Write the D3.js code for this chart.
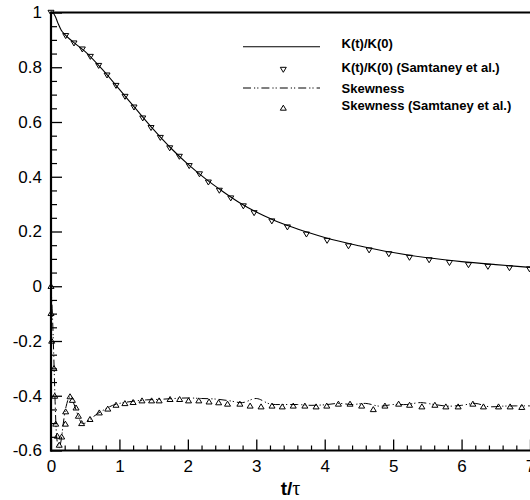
<!DOCTYPE html>
<html>
<head>
<meta charset="utf-8">
<script src="https://cdn.jsdelivr.net/npm/d3@7"></script>
<style>
  html, body { margin: 0; padding: 0; background: #fff; }
  svg { display: block; font-family: "Liberation Sans", Arial, sans-serif; }
</style>
</head>
<body>
<svg id="chart" width="530" height="500"></svg>
<script>
// ---------- data ----------
const xTickValues = [0, 1, 2, 3, 4, 5, 6, 7];
const xTickLabels = ["0", "1", "2", "3", "4", "5", "6", "7"];
const yTickValues = [1, 0.8, 0.6, 0.4, 0.2, 0, -0.2, -0.4, -0.6];
const yTickLabels = ["1", "0.8", "0.6", "0.4", "0.2", "0", "-0.2", "-0.4", "-0.6"];

// K(t)/K(0) simulation line
const kLineT = [0, 0.03, 0.06, 0.1, 0.15, 0.2, 0.3, 0.5, 0.75, 1.0, 1.25, 1.5, 1.75, 2.0, 2.25, 2.5, 2.75, 3.0, 3.25, 3.5, 3.75, 4.0, 4.5, 5.0, 5.5, 6.0, 6.5, 7.0];
const kLineV = [1.0, 0.998, 0.987, 0.962, 0.935, 0.92, 0.897, 0.857, 0.792, 0.719, 0.645, 0.572, 0.505, 0.446, 0.394, 0.348, 0.306, 0.271, 0.242, 0.218, 0.197, 0.178, 0.148, 0.123, 0.104, 0.09, 0.079, 0.069];

// K(t)/K(0) Samtaney et al. markers
const kRefT = [0, 0.215, 0.336, 0.458, 0.575, 0.697, 0.819, 0.95, 1.082, 1.213, 1.341, 1.462, 1.598, 1.735, 1.876, 2.02, 2.17, 2.30, 2.46, 2.627, 2.811, 2.968, 3.227, 3.455, 3.733, 4.035, 4.347, 4.649, 4.937, 5.239, 5.526, 5.823, 6.101, 6.385, 6.70, 6.993];
const kRefV = [1.0, 0.915, 0.888, 0.866, 0.839, 0.806, 0.771, 0.733, 0.693, 0.654, 0.614, 0.579, 0.543, 0.505, 0.474, 0.44, 0.41, 0.38, 0.35, 0.322, 0.293, 0.268, 0.238, 0.216, 0.19, 0.167, 0.147, 0.132, 0.118, 0.105, 0.096, 0.086, 0.078, 0.072, 0.067, 0.063];

// Skewness simulation line
const sLineT = [0, 0.02, 0.04, 0.06, 0.08, 0.1, 0.12, 0.15, 0.18, 0.22, 0.27, 0.3, 0.35, 0.4, 0.45, 0.5, 0.6, 0.7, 0.8, 0.9, 1.0, 1.2, 1.4, 1.6, 1.8, 2.0, 2.2, 2.4, 2.6, 2.8, 3.0, 3.2, 3.4, 3.6, 3.8, 4.0, 4.2, 4.4, 4.6, 4.8, 5.0, 5.2, 5.4, 5.6, 5.8, 6.0, 6.2, 6.4, 6.6, 6.8, 7.0];
const sLineV = [0, -0.1, -0.25, -0.42, -0.54, -0.58, -0.59, -0.56, -0.5, -0.44, -0.405, -0.41, -0.44, -0.475, -0.5, -0.5, -0.48, -0.462, -0.448, -0.435, -0.428, -0.42, -0.415, -0.413, -0.41, -0.408, -0.41, -0.412, -0.418, -0.425, -0.41, -0.43, -0.432, -0.432, -0.435, -0.433, -0.428, -0.432, -0.428, -0.438, -0.432, -0.432, -0.425, -0.432, -0.438, -0.435, -0.428, -0.44, -0.438, -0.437, -0.437];

// Skewness Samtaney et al. markers
const sRefT = [0, 0.0, 0.01, 0.044, 0.054, 0.069, 0.092, 0.12, 0.156, 0.21, 0.214, 0.278, 0.312, 0.366, 0.40, 0.448, 0.57, 0.706, 0.83, 0.95, 1.08, 1.20, 1.33, 1.47, 1.58, 1.74, 1.88, 2.01, 2.16, 2.31, 2.45, 2.58, 2.76, 2.91, 3.07, 3.23, 3.38, 3.54, 3.71, 3.874, 4.03, 4.20, 4.37, 4.54, 4.71, 4.88, 5.08, 5.24, 5.42, 5.61, 5.77, 5.95, 6.165, 6.32, 6.54, 6.71, 6.88];
const sRefV = [0, -0.099, -0.2, -0.30, -0.401, -0.503, -0.547, -0.58, -0.55, -0.503, -0.458, -0.403, -0.416, -0.444, -0.474, -0.501, -0.486, -0.462, -0.448, -0.434, -0.428, -0.424, -0.418, -0.418, -0.418, -0.413, -0.413, -0.418, -0.418, -0.422, -0.425, -0.43, -0.43, -0.437, -0.44, -0.437, -0.44, -0.437, -0.437, -0.44, -0.437, -0.43, -0.43, -0.437, -0.45, -0.437, -0.43, -0.434, -0.44, -0.434, -0.44, -0.44, -0.43, -0.44, -0.44, -0.44, -0.442];

const legendLabels = ["K(t)/K(0)", "K(t)/K(0) (Samtaney et al.)", "Skewness", "Skewness (Samtaney et al.)"];
const xAxisTitleMain = "t/";
const xAxisTitleGreek = "\u03C4";

// ---------- drawing ----------
(function () {
const svg = d3.select("#chart");
const pL = 51, pR = 530, pT = 12.5, pB = 450.5;
const x = d3.scaleLinear().domain([0, 7]).range([pL, pR]);
const y = d3.scaleLinear().domain([-0.6, 1]).range([pB, pT]);

svg.append("defs").append("clipPath").attr("id", "clip")
  .append("rect").attr("x", pL - 4).attr("y", pT - 6).attr("width", pR - pL + 8).attr("height", pB - pT + 8);

// minor ticks
const xMinor = d3.range(0, 7.001, 0.2).filter(v => Math.abs(v - Math.round(v)) > 1e-6);
const yMinor = d3.range(-0.6, 1.0001, 0.05).filter(v => Math.abs(v * 5 - Math.round(v * 5)) > 1e-6);

svg.append("g").attr("transform", `translate(0,${pB})`)
  .call(d3.axisBottom(x).tickValues(xMinor).tickSize(-5).tickFormat(""))
  .call(g => g.select(".domain").remove())
  .call(g => g.selectAll("line").attr("stroke", "#000").attr("stroke-width", 1.2));

svg.append("g").attr("transform", `translate(${pL},0)`)
  .call(d3.axisLeft(y).tickValues(yMinor).tickSize(-6).tickFormat(""))
  .call(g => g.select(".domain").remove())
  .call(g => g.selectAll("line").attr("stroke", "#000").attr("stroke-width", 1.2));

// major ticks
svg.append("g").attr("transform", `translate(0,${pB})`)
  .call(d3.axisBottom(x).tickValues(xTickValues).tickSize(-11).tickPadding(9)
    .tickFormat((d, i) => xTickLabels[i]))
  .call(g => g.select(".domain").remove())
  .call(g => g.selectAll("line").attr("stroke", "#000").attr("stroke-width", 1.3))
  .call(g => g.selectAll("text").attr("font-size", 17).attr("fill", "#000")
    .attr("font-family", "Liberation Sans, Arial, sans-serif"));

svg.append("g").attr("transform", `translate(${pL},0)`)
  .call(d3.axisLeft(y).tickValues(yTickValues).tickSize(-11).tickPadding(9)
    .tickFormat((d, i) => yTickLabels[i]))
  .call(g => g.select(".domain").remove())
  .call(g => g.selectAll("line").attr("stroke", "#000").attr("stroke-width", 1.3))
  .call(g => g.selectAll("text").attr("font-size", 17).attr("fill", "#000")
    .attr("font-family", "Liberation Sans, Arial, sans-serif"));

// frame
svg.append("line").attr("x1", pL).attr("x2", pR + 2).attr("y1", pT).attr("y2", pT)
  .attr("stroke", "#000").attr("stroke-width", 2);
svg.append("line").attr("x1", pL).attr("x2", pL).attr("y1", pT - 1).attr("y2", pB + 1)
  .attr("stroke", "#000").attr("stroke-width", 2.2);
svg.append("line").attr("x1", pL - 1).attr("x2", pR + 2).attr("y1", pB).attr("y2", pB)
  .attr("stroke", "#000").attr("stroke-width", 2.2);

const plot = svg.append("g").attr("clip-path", "url(#clip)");
const line = d3.line().x(d => x(d[0])).y(d => y(d[1])).curve(d3.curveMonotoneX);

const dashPattern = "8,3,1.2,2,1.2,3";

plot.append("path").datum(kLineT.map((t, i) => [t, kLineV[i]]))
  .attr("d", line).attr("fill", "none").attr("stroke", "#000").attr("stroke-width", 1.1);

plot.append("path").datum(sLineT.map((t, i) => [t, sLineV[i]]))
  .attr("d", d3.line().x(d => x(d[0])).y(d => y(d[1])).curve(d3.curveCatmullRom))
  .attr("fill", "none").attr("stroke", "#000").attr("stroke-width", 1)
  .attr("stroke-dasharray", dashPattern);

const triDown = "M-3,-2.2L3,-2.2L0,2.8Z";
const triUp = "M-3,2.2L3,2.2L0,-2.8Z";

plot.selectAll(".kref").data(kRefT.map((t, i) => [t, kRefV[i]])).enter()
  .append("path").attr("class", "kref").attr("d", triDown)
  .attr("transform", d => `translate(${x(d[0])},${y(d[1])})`)
  .attr("fill", "none").attr("stroke", "#000").attr("stroke-width", 1);

plot.selectAll(".sref").data(sRefT.map((t, i) => [t, sRefV[i]])).enter()
  .append("path").attr("class", "sref").attr("d", triUp)
  .attr("transform", d => `translate(${x(d[0])},${y(d[1])})`)
  .attr("fill", "none").attr("stroke", "#000").attr("stroke-width", 1);

// axis title
const title = svg.append("text").attr("x", (pL + pR) / 2).attr("y", 495)
  .attr("text-anchor", "middle").attr("font-size", 19).attr("font-weight", "bold");
title.append("tspan").text(xAxisTitleMain);
title.append("tspan").attr("font-family", "Liberation Serif, DejaVu Serif, serif")
  .attr("font-weight", "normal").attr("font-size", 20).text(xAxisTitleGreek);

// legend
const lg = svg.append("g");
const lx1 = 243, lx2 = 320, ltx = 341.5;
lg.append("line").attr("x1", lx1).attr("x2", lx2).attr("y1", 46.7).attr("y2", 46.7)
  .attr("stroke", "#000").attr("stroke-width", 1.1);
lg.append("path").attr("d", triDown).attr("transform", "translate(283.3,69.5)")
  .attr("fill", "none").attr("stroke", "#000").attr("stroke-width", 1);
lg.append("line").attr("x1", lx1).attr("x2", lx2).attr("y1", 88).attr("y2", 88)
  .attr("stroke", "#000").attr("stroke-width", 1).attr("stroke-dasharray", dashPattern);
lg.append("path").attr("d", triUp).attr("transform", "translate(283.3,108)")
  .attr("fill", "none").attr("stroke", "#000").attr("stroke-width", 1);

const legendY = [47.5, 71.5, 92.5, 109.5];
lg.selectAll(".lt").data(legendLabels).enter().append("text")
  .attr("x", ltx).attr("y", (d, i) => legendY[i])
  .attr("font-size", 13).attr("font-weight", "bold").text(d => d);
})();
</script>
</body>
</html>
